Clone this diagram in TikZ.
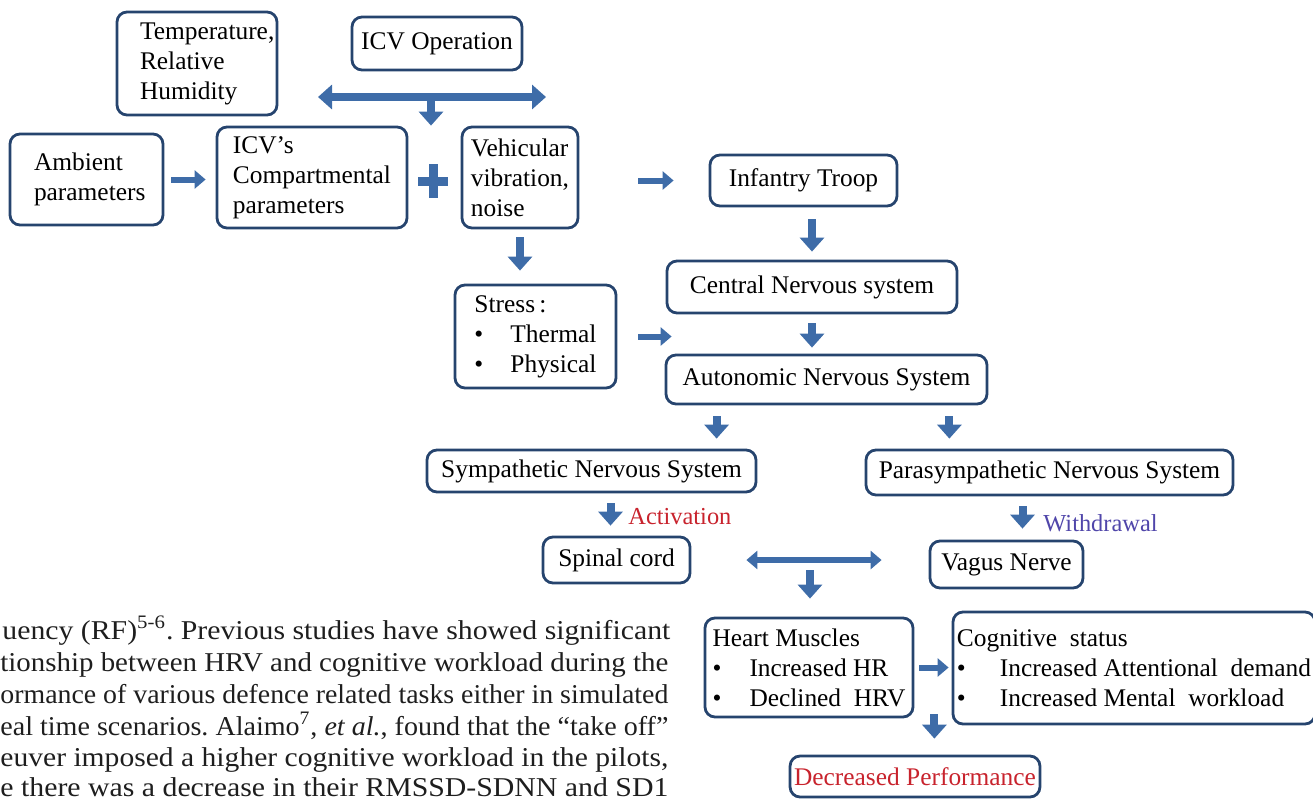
\documentclass[tikz,border=0pt]{standalone}
\usepackage{fontspec}
\usepackage{graphicx}
\setmainfont{Liberation Serif}
\usetikzlibrary{positioning,arrows.meta,calc}

\definecolor{boxline}{RGB}{38,68,110}
\definecolor{arrowblue}{RGB}{62,108,168}
\definecolor{actred}{RGB}{200,35,45}
\definecolor{wdblue}{RGB}{80,70,170}
\definecolor{bodygray}{RGB}{30,30,30}

\tikzset{
  box/.style={draw=boxline, line width=1.4pt, rounded corners=5pt, align=left,
    inner sep=2pt, text=black, font=\fontsize{12.7}{15}\selectfont},
  harr/.style={color=arrowblue, line width=3pt, -{Triangle[length=5.5pt,width=9pt]}},
  varr/.style={color=arrowblue, line width=4pt, -{Triangle[length=7pt,width=12pt]}},
  dblarr/.style={color=arrowblue, line width=4pt,
    {Triangle[length=7pt,width=12pt]}-{Triangle[length=7pt,width=12pt]}},
  sdblarr/.style={color=arrowblue, line width=3pt,
    {Triangle[length=5.5pt,width=9pt]}-{Triangle[length=5.5pt,width=9pt]}},
  lbl/.style={font=\fontsize{12.2}{14}\selectfont, anchor=west, inner sep=0pt},
  bodytext/.style={font=\fontsize{13.6}{15}\selectfont\frenchspacing, text=bodygray, anchor=base west, inner sep=0pt}
}

% one justified line of the page text
\newcommand{\pageline}[1]{\resizebox{334pt}{\height}{#1}}

\begin{document}
\begin{tikzpicture}[x=0.5pt, y=-0.5pt]

  \useasboundingbox (0,0) rectangle (1313,799);

  % top row
  \node[box] (temp) [text width=57pt, inner xsep=11.5pt, minimum height=51.5pt] at (197,63.5) {Temperature,\\Relative\\Humidity};
  \node[box] (icvop) [minimum width=85pt, minimum height=26.5pt] at (437,43.5) {ICV Operation};
  \node[box] (amb) [text width=52.5pt, inner xsep=12pt, minimum height=45.5pt] at (86.5,179.5) {Ambient\\parameters};
  \node[box] (icv) [minimum width=95pt, minimum height=50.5pt] at (312,177.5) {ICV's\\Compartmental\\parameters};
  \node[box] (veh) [minimum width=58pt, minimum height=50.5pt] at (520,177.5) {Vehicular\\vibration,\\noise};
  \node[box] (inf) [minimum width=93.5pt, minimum height=25.5pt] at (803.5,180.5) {Infantry Troop};

  % middle
  \node[box] (cns) [minimum width=145pt, minimum height=26pt] at (812,287) {Central Nervous system};
  \node[box] (stress) [minimum width=80.5pt, minimum height=51.5pt] at (535.5,336.5)
    {Stress\,:\\\makebox[18pt][l]{\textbullet}Thermal\\\makebox[18pt][l]{\textbullet}Physical};
  \node[box] (ans) [minimum width=160.5pt, minimum height=24.5pt] at (826.5,379.5) {Autonomic Nervous System};
  \node[box] (sns) [minimum width=164.5pt, minimum height=21pt] at (591.5,471) {Sympathetic Nervous System};
  \node[box] (pns) [minimum width=183.5pt, minimum height=22.5pt] at (1049.5,472.5) {Parasympathetic Nervous System};
  \node[box] (spinal) [minimum width=73.5pt, minimum height=23pt] at (616.5,560) {Spinal cord};
  \node[box] (vagus) [minimum width=76.5pt, minimum height=23.5pt] at (1006.5,564.5) {Vagus Nerve};

  % bottom
  \node[box] (heart) [minimum width=104pt, minimum height=49.5pt] at (809,667.5)
    {Heart Muscles\\\makebox[18.5pt][l]{\textbullet}Increased HR\\\makebox[18.5pt][l]{\textbullet}Declined\ \ HRV};
  \node[box] (cog) [minimum width=176pt, minimum height=56pt] at (1134,668)
    {Cognitive\ \ status\\\makebox[21.5pt][l]{\textbullet}Increased Attentional\ \ demand\\\makebox[21.5pt][l]{\textbullet}Increased Mental\ \ workload};
  \node[box, text=actred] (perf) [minimum width=122pt, minimum height=20.5pt] at (915,776.5) {Decreased Performance};

  \node[lbl, text=actred] (act) at (628,517) {Activation};
  \node[lbl, text=wdblue] (wd) at (1043,523) {Withdrawal};

  % ICV operation arrow
  \coordinate (opl) at (318,97);
  \coordinate (opr) at (546,97);
  \coordinate (opm) at (431,97);
  \path[dblarr] (opl) edge (opr);
  \path[varr] (opm) edge (opm |- icv.north);

  % plus sign
  \draw[arrowblue, line width=4.5pt] (418,181) -- (448,181) (433,164) -- (433,198);

  \path[harr, shorten <=3.5pt, shorten >=5pt] (amb.east) edge (amb.east -| icv.west);
  \path[harr, shorten <=29.5pt, shorten >=17.5pt] (inf.west -| veh.east) edge (inf.west);
  \path[varr, shorten <=6pt, shorten >=4pt] (cns.north |- inf.south) edge (cns.north);
  \path[varr, shorten <=4pt, shorten >=6.5pt] (veh.south) edge (veh.south |- stress.north);
  \path[varr, shorten <=4.5pt, shorten >=3pt] (cns.south) edge (ans.north -| cns.south);
  \path[harr, shorten <=10.5pt, shorten >=-3.5pt] (stress.east) edge (stress.east -| ans.west);
  \path[varr, shorten <=5.5pt, shorten >=5pt] ([xshift=26]ans.south west) edge ([xshift=26]ans.south west |- sns.north);
  \path[varr, shorten <=5.5pt, shorten >=5pt] ([xshift=-19.5]ans.south east) edge ([xshift=-19.5]ans.south east |- pns.north);
  \path[varr, shorten <=5pt, shorten >=5pt] ([xshift=-3]spinal.north |- sns.south) edge ([xshift=-3]spinal.north);
  \path[varr, shorten <=5pt, shorten >=5.5pt] ([xshift=8]vagus.north |- pns.south) edge ([xshift=8]vagus.north);

  % spinal cord -- vagus nerve
  \coordinate (sv) at ($(spinal.east)!0.5!(spinal.east -| vagus.west)$);
  \path[sdblarr, shorten <=27.5pt, shorten >=23.5pt] (spinal.east) edge (spinal.east -| vagus.west);
  \path[varr, shorten <=5pt, shorten >=9pt] (sv) edge (sv |- heart.north);
  \path[harr, shorten <=2.5pt, shorten >=1.5pt] (heart.east) edge (heart.east -| cog.west);
  \path[varr, shorten <=-2pt, shorten >=8pt] ([xshift=10]heart.south east) edge ([xshift=10]heart.south east |- perf.north);

  % page text
  \node[bodytext] (t1) at (2,639) {\pageline{uency (RF)\textsuperscript{5-6}. Previous studies have showed significant}};
  \node[bodytext] (t2) at (0,671) {\pageline{tionship between HRV and cognitive workload during the}};
  \node[bodytext] (t3) at (0,703) {\pageline{ormance of various defence related tasks either in simulated}};
  \node[bodytext] (t4) at (0,735) {\pageline{eal time scenarios. Alaimo\textsuperscript{7}, \textit{et al.}, found that the “take off”}};
  \node[bodytext] (t5) at (0,766) {\pageline{euver imposed a higher cognitive workload in the pilots,}};
  \node[bodytext] (t6) at (0,796) {\pageline{e there was a decrease in their RMSSD-SDNN and SD1}};

\end{tikzpicture}
\end{document}
